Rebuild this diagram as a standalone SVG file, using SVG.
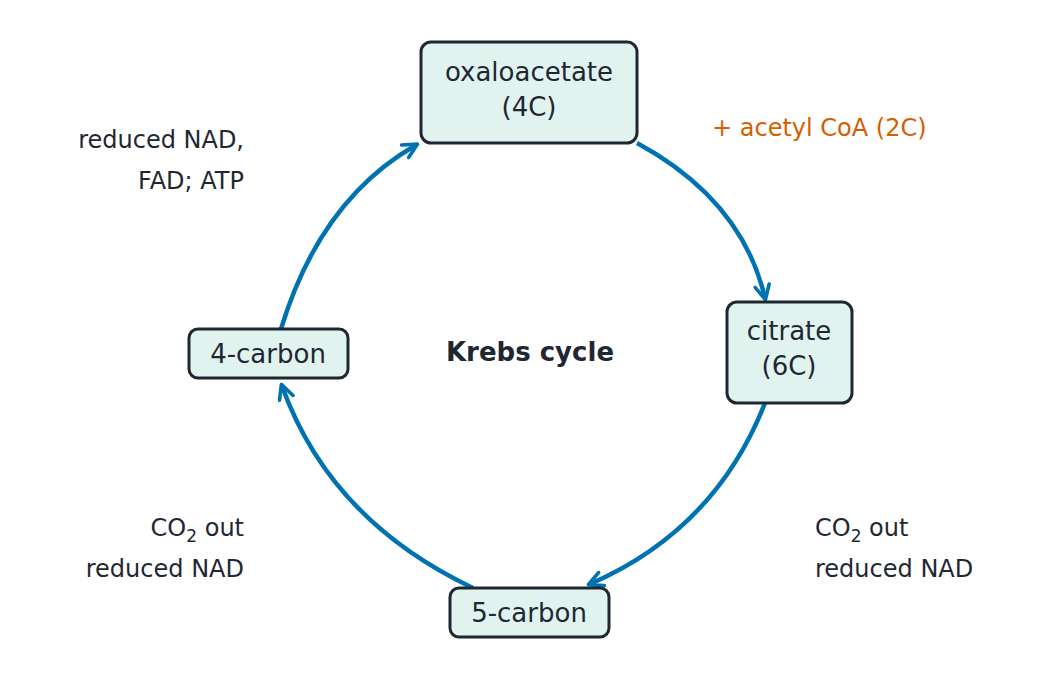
<svg xmlns="http://www.w3.org/2000/svg" width="1049" height="681" viewBox="0 0 1049 681">
<defs>
<marker id="ah" viewBox="0 0 10 10" refX="8" refY="5" markerWidth="4" markerHeight="4" orient="auto" markerUnits="strokeWidth">
<path d="M1,1 L9,5 L1,9" fill="none" stroke="#0072b2" stroke-width="2" stroke-linecap="round" stroke-linejoin="round"/>
</marker>
<style>
.n{fill:#e1f3ef;stroke:#1f2733;stroke-width:3}
.t{font-family:"DejaVu Sans",sans-serif;font-size:26px;fill:#1f2733}
.l{font-family:"DejaVu Sans",sans-serif;font-size:24px;fill:#1f2733}
.c{fill:none;stroke:#0072b2;stroke-width:4.5;marker-end:url(#ah)}
</style>
</defs>
<rect width="1049" height="681" fill="#fff"/>
<g id="connectors">
<path class="c" d="M637,143 Q742,200 765,298"/>
<path class="c" d="M765,403 Q715,530 590,584"/>
<path class="c" d="M473,588 Q330,520 282,386"/>
<path class="c" d="M281,329 Q320,200 416,145"/>
</g>
<g id="oxaloacetate"><rect class="n" x="421" y="42" width="216" height="101" rx="10"/>
<text class="t" x="529" y="81" text-anchor="middle">oxaloacetate</text><text class="t" x="529" y="116" text-anchor="middle">(4C)</text></g>
<g id="citrate"><rect class="n" x="727" y="302" width="125" height="101" rx="10"/>
<text class="t" x="789" y="340" text-anchor="middle">citrate</text><text class="t" x="789" y="375" text-anchor="middle">(6C)</text></g>
<g id="fourcarbon"><rect class="n" x="189" y="329" width="159" height="49" rx="9"/>
<text class="t" x="268" y="363" text-anchor="middle">4-carbon</text></g>
<g id="fivecarbon"><rect class="n" x="450" y="588" width="159" height="49" rx="9"/>
<text class="t" x="529" y="622" text-anchor="middle">5-carbon</text></g>
<text x="530" y="361" text-anchor="middle" style="font-family:'DejaVu Sans',sans-serif;font-size:26px;font-weight:bold;fill:#1f2733">Krebs cycle</text>
<text class="l" x="712" y="136" style="fill:#d55e00">+ acetyl CoA (2C)</text>
<text class="l" x="244" y="148" text-anchor="end">reduced NAD,</text>
<text class="l" x="244" y="189" text-anchor="end">FAD; ATP</text>
<text class="l" x="244" y="536" text-anchor="end">CO<tspan font-size="17" dy="6">2</tspan><tspan dy="-6"> out</tspan></text>
<text class="l" x="244" y="577" text-anchor="end">reduced NAD</text>
<text class="l" x="815" y="536">CO<tspan font-size="17" dy="6">2</tspan><tspan dy="-6"> out</tspan></text>
<text class="l" x="815" y="577">reduced NAD</text>
</svg>
